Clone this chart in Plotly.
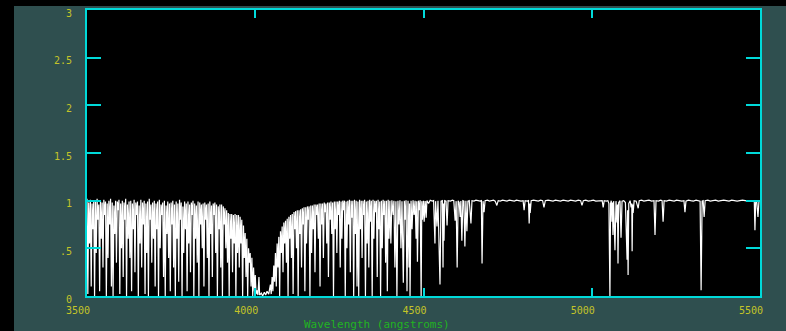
import numpy as np
import plotly.graph_objects as go

# ---------------- data ----------------
# Blue region 3500-3995 A: local maxima at 3500+5i, line cores at 3502.5+5i
blue_start, blue_step = 3500.0, 5.0
blue_top = [1.02, 0.98, 1.01, 0.97, 1.00, 0.99, 1.02, 0.96, 1.00, 0.98,
            1.01, 0.99, 0.97, 1.00, 1.02, 0.98, 0.95, 1.00, 0.99, 1.01,
            0.97, 1.00, 0.98, 1.02, 0.96, 0.99, 1.00, 0.97, 1.01, 0.98,
            0.99, 0.95, 1.01, 0.98, 1.00, 0.97, 0.99, 1.02, 0.96, 0.98,
            1.00, 0.97, 0.99, 1.01, 0.96, 0.98, 1.00, 0.95, 0.99, 0.97,
            0.98, 1.00, 0.96, 0.99, 0.97, 1.01, 0.98, 0.94, 0.99, 0.97,
            0.99, 0.96, 0.98, 1.00, 0.97, 0.95, 0.99, 0.98, 0.96, 0.97,
            0.98, 0.96, 0.97, 0.99, 0.95, 0.97, 0.98, 0.96, 0.94, 0.96,
            0.96, 0.94, 0.92, 0.90, 0.87, 0.86, 0.86, 0.85, 0.86, 0.85,
            0.85, 0.83, 0.80, 0.74, 0.66, 0.60, 0.50, 0.45, 0.40, 0.30]
blue_dip = [0.02, 0.55, 0.10, 0.70, 0.00, 0.45, 0.80, 0.05, 0.60, 0.30,
            0.85, 0.00, 0.40, 0.75, 0.10, 0.00, 0.65, 0.35, 0.90, 0.02,
            0.50, 0.20, 0.80, 0.00, 0.60, 0.40, 0.05, 0.70, 0.25, 0.85,
            0.00, 0.55, 0.30, 0.75, 0.02, 0.45, 0.00, 0.80, 0.35, 0.60,
            0.10, 0.70, 0.00, 0.50, 0.85, 0.20, 0.00, 0.65, 0.40, 0.05,
            0.75, 0.30, 0.00, 0.60, 0.15, 0.80, 0.00, 0.45, 0.70, 0.05,
            0.55, 0.25, 0.85, 0.00, 0.60, 0.35, 0.00, 0.75, 0.50, 0.10,
            0.80, 0.40, 0.00, 0.65, 0.20, 0.85, 0.45, 0.00, 0.70, 0.30,
            0.00, 0.75, 0.50, 0.35, 0.00, 0.60, 0.25, 0.55, 0.00, 0.45,
            0.30, 0.55, 0.00, 0.40, 0.20, 0.00, 0.35, 0.10, 0.00, 0.05]

# Broad trough near 4000-4040 A
trough_wl = [4000, 4002.5, 4005, 4008, 4011, 4013, 4018, 4022, 4027, 4031, 4035, 4040]
trough_fx = [0.22, 0.02, 0.06, 0.01, 0.20, 0.01, 0.03, 0.00, 0.04, 0.01, 0.05, 0.02]

# Recovery region 4045-4395 A: maxima at 4045+5i, cores at 4047.5+5i
mid_start, mid_step = 4045.0, 5.0
mid_top = [0.12, 0.20, 0.32, 0.45, 0.55, 0.62, 0.68, 0.73, 0.77, 0.79,
           0.81, 0.83, 0.85, 0.86, 0.88, 0.89, 0.90, 0.90, 0.91, 0.92,
           0.93, 0.93, 0.94, 0.94, 0.95, 0.95, 0.96, 0.96, 0.96, 0.97,
           0.97, 0.97, 0.98, 0.97, 0.98, 0.98, 0.99, 0.98, 0.99, 0.99,
           0.99, 1.00, 0.99, 1.00, 1.00, 0.99, 1.00, 1.01, 1.00, 1.00,
           1.01, 1.00, 0.99, 1.01, 1.00, 1.00, 1.01, 0.99, 1.00, 1.01,
           1.00, 1.01, 1.00, 1.00, 1.01, 0.99, 1.00, 1.01, 1.00, 1.00, 1.01]
mid_dip = [0.02, 0.05, 0.15, 0.10, 0.30, 0.00, 0.45, 0.25, 0.55, 0.35,
           0.00, 0.60, 0.40, 0.02, 0.70, 0.50, 0.00, 0.65, 0.30, 0.75,
           0.05, 0.55, 0.80, 0.00, 0.45, 0.70, 0.25, 0.85, 0.60, 0.10,
           0.75, 0.40, 0.88, 0.55, 0.20, 0.80, 0.65, 0.00, 0.70, 0.45,
           0.85, 0.30, 0.60, 0.90, 0.00, 0.50, 0.75, 0.25, 0.82, 0.00,
           0.65, 0.10, 0.00, 0.70, 0.40, 0.85, 0.00, 0.55, 0.30, 0.78,
           0.00, 0.60, 0.88, 0.20, 0.70, 0.00, 0.50, 0.85, 0.35, 0.05, 0.60]

# 4400-4500 A
late_wl = [4400, 4403, 4406, 4410, 4412, 4415, 4418, 4421, 4424, 4427, 4430, 4433,
           4436, 4440, 4443, 4445, 4448, 4451, 4454, 4457, 4458.5, 4460, 4463, 4466,
           4469, 4472, 4475, 4478, 4480, 4482, 4485, 4488, 4490, 4493, 4495, 4497]
late_fx = [1.00, 0.55, 1.005, 0.85, 1.00, 0.30, 0.995, 0.00, 1.00, 0.75, 1.005, 0.50,
           0.995, 0.14, 1.00, 0.80, 1.005, 0.05, 1.00, 0.30, 0.97, 0.00, 1.00, 0.70,
           1.005, 0.85, 1.00, 0.60, 0.995, 0.36, 1.00, 0.90, 1.005, 0.00, 0.995, 0.80]

# Red region 4500-5500 A
red_wl = [4500, 4502, 4505, 4508, 4510, 4515, 4520, 4526, 4530, 4534, 4536, 4540,
          4543, 4549, 4552, 4556, 4558, 4559.5, 4561, 4563, 4567, 4570, 4573, 4580,
          4586, 4590, 4594, 4597, 4600, 4603, 4606, 4609, 4611, 4614, 4617, 4620,
          4623, 4626, 4629, 4632, 4636, 4641, 4644, 4650, 4656, 4662, 4668, 4672,
          4674, 4677, 4680, 4683, 4690, 4696, 4702, 4708, 4713, 4718, 4722, 4728,
          4735, 4742, 4748, 4755, 4762, 4770, 4776, 4783, 4790, 4796, 4799, 4802,
          4808, 4812, 4814, 4816, 4817, 4820, 4827, 4834, 4841, 4848, 4854, 4858,
          4862, 4870, 4878, 4885, 4892, 4900, 4907, 4915, 4922, 4930, 4937, 4945,
          4952, 4960, 4967, 4971, 4975, 4982, 4990, 4998, 5005, 5012, 5020, 5027,
          5031, 5034, 5037, 5043, 5048, 5051, 5054, 5056, 5058, 5060, 5061.5, 5063,
          5065, 5069, 5072, 5075, 5076.5, 5078, 5080, 5084, 5087, 5090, 5095, 5100,
          5105, 5106.5, 5108, 5110, 5114, 5117, 5119, 5120, 5121.5, 5123, 5126, 5132,
          5138, 5141, 5148, 5155, 5162, 5170, 5178, 5185, 5188, 5191, 5198, 5205,
          5209, 5212, 5215, 5222, 5230, 5238, 5245, 5252, 5260, 5268, 5274, 5277,
          5280, 5287, 5294, 5302, 5310, 5318, 5322, 5325, 5328, 5331, 5334, 5337,
          5345, 5352, 5360, 5368, 5376, 5384, 5392, 5400, 5408, 5416, 5424, 5432,
          5440, 5448, 5456, 5464, 5472, 5480, 5483, 5485, 5487, 5490, 5494, 5497, 5500]
red_fx = [1.00, 0.78, 0.995, 0.82, 1.00, 0.97, 1.005, 0.995, 1.00, 0.55, 0.995, 0.73,
          1.00, 0.12, 0.995, 1.00, 0.30, 0.97, 0.58, 1.00, 0.995, 0.74, 1.00, 0.995,
          1.005, 1.00, 0.79, 0.995, 0.30, 1.00, 0.98, 0.83, 0.995, 0.58, 1.00, 0.995,
          0.52, 1.00, 0.68, 0.995, 1.00, 0.76, 1.00, 0.995, 1.005, 1.00, 0.995, 1.00,
          0.34, 0.995, 0.88, 1.00, 1.005, 0.995, 1.00, 1.005, 0.995, 0.95, 1.00, 0.995,
          1.005, 1.00, 0.995, 1.005, 1.00, 0.995, 1.005, 1.00, 0.995, 1.00, 0.90, 1.00,
          0.995, 1.00, 0.76, 0.97, 0.87, 1.00, 1.005, 1.00, 0.995, 1.005, 1.00, 0.93,
          1.00, 1.005, 1.00, 0.995, 1.005, 1.00, 0.995, 1.005, 1.00, 0.995, 1.005, 1.00,
          0.995, 1.005, 1.00, 0.95, 1.00, 1.005, 0.995, 1.00, 1.005, 0.995, 1.00, 1.005,
          1.00, 0.93, 1.00, 0.995, 1.00, 0.97, 0.00, 0.97, 1.00, 0.78, 0.98, 0.64,
          0.995, 0.48, 0.995, 0.77, 0.96, 0.34, 0.98, 1.00, 0.61, 0.995, 1.00, 0.98,
          0.38, 0.90, 0.22, 0.97, 1.00, 0.93, 0.97, 0.47, 0.96, 0.87, 1.00, 0.995,
          0.92, 1.00, 1.005, 0.995, 1.00, 1.005, 0.995, 1.00, 0.64, 1.00, 0.995, 1.005,
          1.00, 0.78, 1.00, 0.995, 1.005, 1.00, 0.995, 1.005, 1.00, 0.995, 1.00, 0.88,
          0.995, 1.005, 1.00, 0.995, 1.005, 1.00, 0.995, 0.06, 0.995, 1.00, 0.83, 1.00,
          1.005, 0.995, 1.00, 1.005, 0.995, 1.00, 1.005, 1.00, 0.995, 1.005, 1.00, 0.995,
          1.00, 1.005, 1.00, 0.995, 1.00, 1.005, 1.00, 0.69, 0.98, 1.00, 0.83, 1.00, 1.00]

x_tick_vals = [3500, 4000, 4500, 5000, 5500]
x_tick_text = ["3500", "4000", "4500", "5000", "5500"]
y_tick_vals = [0, 0.5, 1, 1.5, 2, 2.5, 3]
y_tick_text = ["0", ".5", "1", "1.5", "2", "2.5", "3"]
x_title = "Wavelength (angstroms)"

# ---------------- assemble the spectrum table ----------------
wl, fx = [], []
for i, (t, d) in enumerate(zip(blue_top, blue_dip)):
    wl += [blue_start + blue_step * i, blue_start + blue_step * i + blue_step / 2]
    fx += [t, d]
wl += trough_wl
fx += trough_fx
for i, (t, d) in enumerate(zip(mid_top, mid_dip)):
    wl += [mid_start + mid_step * i, mid_start + mid_step * i + mid_step / 2]
    fx += [t, d]
wl += late_wl
fx += late_fx
wl += red_wl
fx += red_fx

# ---------------- figure ----------------
W, H = 786, 331
L, R, T, B = 87, 26, 10, 35
slate = "#2f4f4f"
cyan = "#00dada"
yellow = "#c4c428"
green = "#22b422"
mono = "DejaVu Sans Mono, Liberation Mono, monospace"

fig = go.Figure()
fig.add_trace(go.Scatter(x=wl, y=fx, mode="lines",
                         line=dict(color="#ffffff", width=1.2),
                         hoverinfo="skip", showlegend=False))

pw, ph = W - L - R, H - T - B
def px_x(p):
    return (p - L) / pw
def px_y(q):
    return (H - B - q) / ph

# slate panel (the window has black strips at its left and top edges)
fig.add_shape(type="rect", xref="paper", yref="paper",
              x0=px_x(14), x1=px_x(W + 5), y0=px_y(H + 5), y1=px_y(6),
              fillcolor=slate, line_width=0, layer="below")
# black plotting area
fig.add_shape(type="rect", xref="paper", yref="paper",
              x0=0, x1=1, y0=0, y1=1,
              fillcolor="#000000", line_width=0, layer="below")

fig.add_annotation(text=x_title, xref="paper", yref="paper",
                   x=px_x(376.5), y=px_y(324), xanchor="center", yanchor="middle",
                   showarrow=False, font=dict(family=mono, size=11, color=green))

fig.update_layout(
    width=W, height=H,
    margin=dict(l=L, r=R, t=T, b=B, pad=0, autoexpand=False),
    paper_bgcolor="#000000", plot_bgcolor="#000000",
    showlegend=False, hovermode=False,
    xaxis=dict(range=[3500, 5500], tickmode="array", tickvals=x_tick_vals,
               ticktext=x_tick_text, ticks="inside", ticklen=8, tickwidth=1.5,
               tickcolor=cyan, showline=True, linecolor=cyan, linewidth=2,
               mirror="ticks", showgrid=False, zeroline=False, automargin=False,
               ticklabelshift=-9, ticklabelstandoff=4,
               tickfont=dict(family=mono, size=10, color=yellow)),
    yaxis=dict(range=[0, 3], tickmode="array", tickvals=y_tick_vals,
               ticktext=y_tick_text, ticks="inside", ticklen=14, tickwidth=1.5,
               tickcolor=cyan, showline=True, linecolor=cyan, linewidth=2,
               mirror="ticks", showgrid=False, zeroline=False, automargin=False,
               ticklabelshift=3, ticklabelstandoff=11,
               tickfont=dict(family=mono, size=10, color=yellow)),
)

fig.write_html("out.html", config={"displayModeBar": False},
               post_script="document.body.style.margin='0px';"
                           "document.body.style.background='#000000';")
